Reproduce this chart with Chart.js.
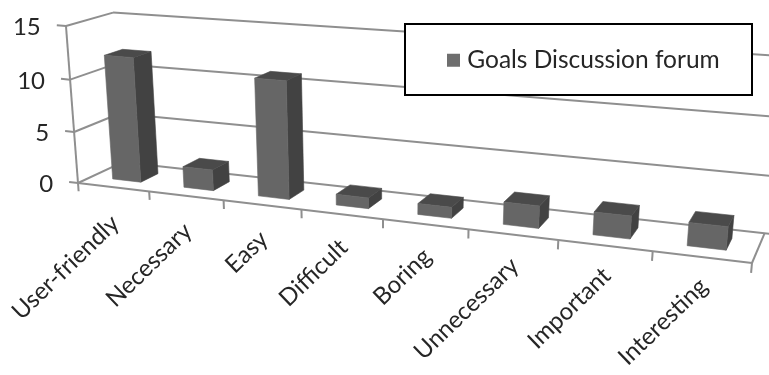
<!DOCTYPE html>
<html>
<head>
<meta charset="utf-8">
<title>Goals Discussion forum</title>
<script src="https://cdn.jsdelivr.net/npm/chart.js@4"></script>
<style>
    html, body { margin: 0; padding: 0; background: #ffffff; }
    canvas { display: block; }
</style>
</head>
<body>
<canvas id="goalsChart" width="769" height="375"></canvas>
<script>
const categories = ['User-friendly', 'Necessary', 'Easy', 'Difficult', 'Boring', 'Unnecessary', 'Important', 'Interesting'];
const goalsValues = [12, 2, 11, 1, 1, 2, 2, 2];
const seriesName = 'Goals Discussion forum';
const valueTicks = { min: 0, max: 15, step: 5 };

const FONT_FAMILY = 'Lato, "Open Sans", sans-serif';
const TEXT_COLOR = '#262626';
const GRID_COLOR = '#8f8f8f';
const FACE_COLORS = { front: '#666666', side: '#424242', top: '#4a4a4a' };

// Camera for the box: homogeneous image of the origin and of each unit axis
const VIEW = {
    origin: [78, 183, 1],
    across: [543.6, 34.4, -0.1734],
    up: [-14.5, -158, -0.0375],
    depth: [51.3, -12.18, 0.0534]
};
// Bars sit in the middle of the box depth
const BAR_DEPTH = [0.3, 0.7];
const LEGEND_BOX = { left: 405, top: 24, right: 752, bottom: 95 };

function project(u, v, d) {
    const at = i => VIEW.origin[i] + u * VIEW.across[i] + v * VIEW.up[i] + d * VIEW.depth[i];
    const w = at(2);
    return [at(0) / w, at(1) / w];
}

function polygon(ctx, points, fill) {
    ctx.beginPath();
    points.forEach((p, i) => i ? ctx.lineTo(p[0], p[1]) : ctx.moveTo(p[0], p[1]));
    ctx.closePath();
    ctx.fillStyle = fill;
    ctx.strokeStyle = fill;
    ctx.lineWidth = 0.6;
    ctx.fill();
    ctx.stroke();
}

function segment(ctx, a, b) {
    ctx.beginPath();
    ctx.moveTo(a[0], a[1]);
    ctx.lineTo(b[0], b[1]);
    ctx.stroke();
}

// Scale pixels to box coordinates
function toU(chart, px) {
    const { left, width } = chart.chartArea;
    return (px - left) / width;
}
function toV(chart, px) {
    const { bottom, height } = chart.chartArea;
    return (bottom - px) / height;
}

const boxPlugin = {
    id: 'box3d',
    afterLayout(chart) {
        // Legend lives inside its own framed box over the back wall
        const legend = chart.legend;
        legend.left = LEGEND_BOX.left + 37;
        legend.right = LEGEND_BOX.right;
        legend.top = LEGEND_BOX.top + 14;
        legend.bottom = LEGEND_BOX.bottom;
        legend.width = legend.right - legend.left;
        legend.height = legend.bottom - legend.top;
    },
    beforeDraw(chart) {
        const ctx = chart.ctx;
        const xScale = chart.scales.x;
        const yScale = chart.scales.y;
        ctx.save();
        ctx.strokeStyle = GRID_COLOR;
        ctx.lineWidth = 2;

        // Walls: one line per value tick on the back and left sides
        yScale.ticks.forEach(tick => {
            const v = toV(chart, yScale.getPixelForValue(tick.value));
            segment(ctx, project(0, v, 0), project(0, v, 1));
            segment(ctx, project(0, v, 1), project(1.1, v, 1));
            segment(ctx, project(0, v, 0), project(-0.016, v, 0));
        });

        // Floor outline and value axis
        const top = toV(chart, yScale.getPixelForValue(valueTicks.max));
        segment(ctx, project(0, 0, 0), project(0, top, 0));
        segment(ctx, project(0, 0, 0), project(1, 0, 0));
        segment(ctx, project(1, 0, 0), project(1, 0, 1));

        // Category tick marks at the bar slot edges
        const slot = xScale.width / categories.length;
        for (let i = 0; i <= categories.length; i++) {
            const u = toU(chart, xScale.left + i * slot);
            segment(ctx, project(u, 0, 0), project(u, -0.055, 0));
        }

        // Value labels
        ctx.fillStyle = TEXT_COLOR;
        ctx.font = '24px ' + FONT_FAMILY;
        ctx.textAlign = 'right';
        ctx.textBaseline = 'middle';
        yScale.ticks.forEach(tick => {
            const v = toV(chart, yScale.getPixelForValue(tick.value));
            const p = project(-0.016, v, 0);
            ctx.fillText(tick.label, p[0] - 16, p[1] + 2);
        });

        // Category labels
        ctx.font = '24px ' + FONT_FAMILY;
        categories.forEach((label, i) => {
            const u = toU(chart, xScale.getPixelForValue(i));
            const p = project(u, 0, 0);
            ctx.save();
            ctx.translate(p[0] + 2, p[1] + 33 - 8 * u);
            ctx.rotate(-44 * Math.PI / 180);
            ctx.fillText(label, 0, 0);
            ctx.restore();
        });

        // Legend frame, the legend itself draws on top of it
        const box = LEGEND_BOX;
        ctx.fillStyle = '#ffffff';
        ctx.strokeStyle = '#000000';
        ctx.fillRect(box.left, box.top, box.right - box.left, box.bottom - box.top);
        ctx.strokeRect(box.left, box.top, box.right - box.left, box.bottom - box.top);
        ctx.restore();
    },
    beforeDatasetsDraw(chart) {
        const ctx = chart.ctx;
        const [near, far] = BAR_DEPTH;
        ctx.save();
        chart.getDatasetMeta(0).data.forEach(bar => {
            const u0 = toU(chart, bar.x - bar.width / 2);
            const u1 = toU(chart, bar.x + bar.width / 2);
            const v0 = toV(chart, bar.base);
            const v1 = toV(chart, bar.y);
            polygon(ctx, [project(u1, v0, near), project(u1, v0, far), project(u1, v1, far), project(u1, v1, near)], FACE_COLORS.side);
            polygon(ctx, [project(u0, v1, near), project(u1, v1, near), project(u1, v1, far), project(u0, v1, far)], FACE_COLORS.top);
            polygon(ctx, [project(u0, v0, near), project(u1, v0, near), project(u1, v1, near), project(u0, v1, near)], FACE_COLORS.front);
        });
        ctx.restore();
        // The boxes above replace the flat bars
        return false;
    }
};

new Chart(document.getElementById('goalsChart'), {
    type: 'bar',
    data: {
        labels: categories,
        datasets: [{
            label: seriesName,
            data: goalsValues,
            backgroundColor: '#6e6e6e',
            borderColor: '#6e6e6e',
            borderWidth: 10,
            barPercentage: 0.4,
            categoryPercentage: 1
        }]
    },
    options: {
        responsive: false,
        animation: false,
        layout: { padding: 0 },
        scales: {
            x: { display: false, ticks: { autoSkip: false } },
            y: {
                display: false,
                min: valueTicks.min,
                max: valueTicks.max,
                ticks: { stepSize: valueTicks.step }
            }
        },
        plugins: {
            tooltip: { enabled: false },
            legend: {
                position: 'top',
                align: 'start',
                labels: {
                    // thin box plus wide border gives the swatch size and text gap
                    boxWidth: 3,
                    boxHeight: 3,
                    padding: 10,
                    color: TEXT_COLOR,
                    font: { family: FONT_FAMILY, size: 24.5 }
                }
            }
        }
    },
    plugins: [boxPlugin]
});
</script>
</body>
</html>
